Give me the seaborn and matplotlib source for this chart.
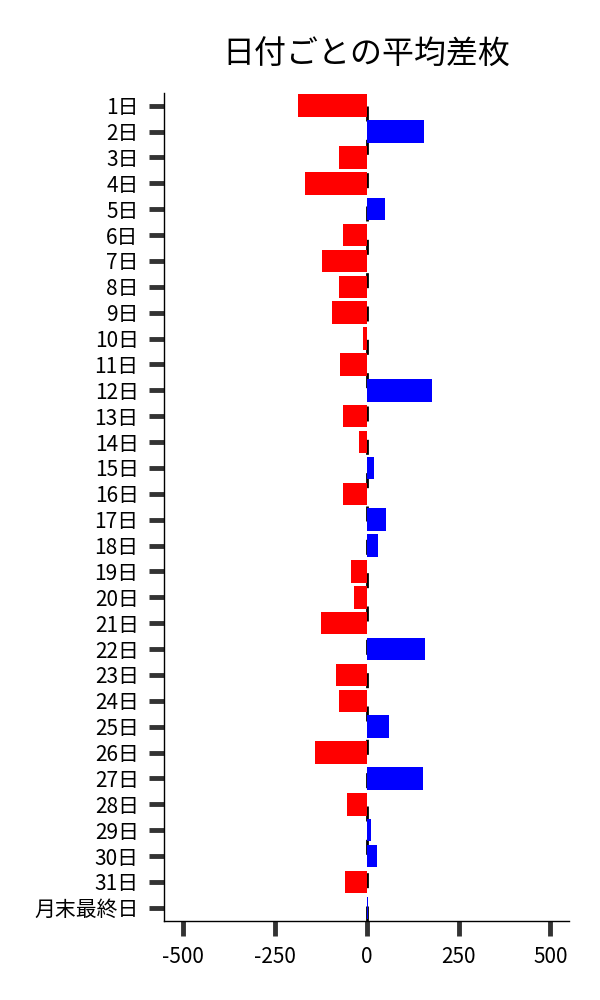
import matplotlib
matplotlib.use("Agg")

import matplotlib.pyplot as plt
import pandas as pd
import seaborn as sns

# ─── DATA ────────────────────────────────────────────────────────
DAY_LABELS = [f"{d}日" for d in range(1, 32)] + ["月末最終日"]
AVG_DIFF = [-187, 155, -76, -168, 49, -63, -122, -76, -95, -11,
            -71, 178, -65, -22, 21, -65, 53, 32, -43, -35,
            -125, 159, -84, -76, 62, -141, 154, -54, 13, 29,
            -60, 4]
X_TICKS = [-500, -250, 0, 250, 500]
TITLE = "日付ごとの平均差枚"

POS_C = "#0000ff"
NEG_C = "#ff0000"
TICK_C = "#333333"

# ─── STYLE ───────────────────────────────────────────────────────
sns.set_style("white")
plt.rcParams["font.family"] = ["Noto Sans CJK JP", "DejaVu Sans"]
plt.rcParams["text.color"] = "black"

df = pd.DataFrame({"day": DAY_LABELS, "diff": AVG_DIFF})
palette = {d: (POS_C if v >= 0 else NEG_C) for d, v in zip(df["day"], df["diff"])}

fig = plt.figure(figsize=(6, 10), dpi=100)
ax = fig.add_axes([0.274, 0.0793, 0.674, 0.828])

sns.barplot(data=df, x="diff", y="day", hue="day", palette=palette,
            legend=False, width=0.87, orient="h", saturation=1,
            linewidth=0, edgecolor="none", ax=ax)

# dashed zero line behind the bars
ax.axvline(0, color="black", linewidth=2.0, linestyle=(0, (5.4, 6.6)), zorder=0.5)
for p in ax.patches:
    p.set_zorder(1)

ax.set_xlim(-550, 550)
ax.set_xticks(X_TICKS)
ax.set_xticklabels([str(t) for t in X_TICKS])
ax.set_xlabel("")
ax.set_ylabel("")
ax.set_title(TITLE, fontsize=23, pad=21, color="black")

sns.despine(ax=ax)
for side in ("left", "bottom"):
    ax.spines[side].set_color("black")
    ax.spines[side].set_linewidth(1.0)

ax.tick_params(axis="both", bottom=True, left=True, length=10.5, width=3.5,
               color=TICK_C, labelsize=15, labelcolor="black", pad=8)

fig.savefig("out.png", dpi=100, facecolor="white")
plt.close(fig)
